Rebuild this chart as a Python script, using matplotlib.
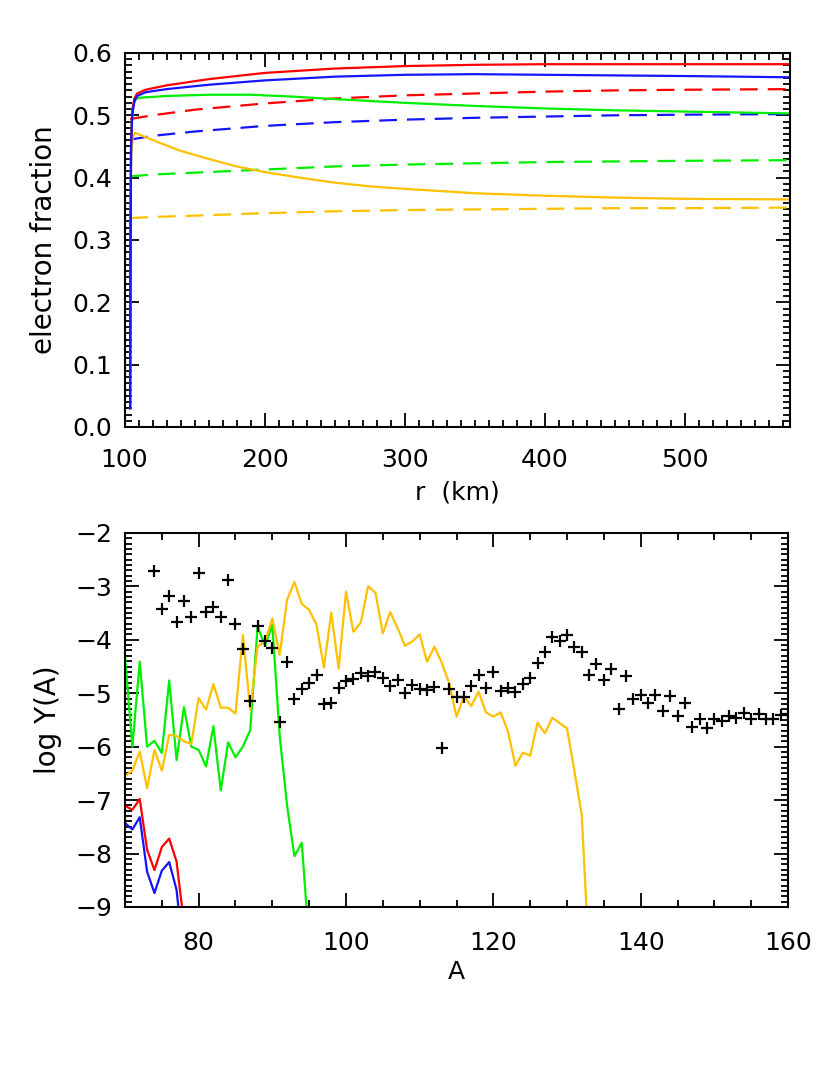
import numpy as np
import matplotlib
matplotlib.use("Agg")
import matplotlib.pyplot as plt
from matplotlib.ticker import MultipleLocator, FormatStrFormatter

# ---- top panel: electron fraction vs radius ----
r_red = [104.0, 104.3, 104.7, 105.5, 107, 109, 115, 130, 160, 200, 250, 300, 350, 400, 500, 575]
ye_red = [0.03, 0.30, 0.45, 0.505, 0.527, 0.535, 0.541, 0.548, 0.558, 0.568, 0.575, 0.579, 0.581, 0.582, 0.582, 0.582]
r_blue = [104.0, 104.3, 104.7, 105.5, 107, 109, 115, 130, 160, 200, 250, 300, 350, 400, 450, 500, 575]
ye_blue = [0.03, 0.30, 0.45, 0.50, 0.522, 0.531, 0.537, 0.542, 0.549, 0.556, 0.562, 0.565, 0.566, 0.565, 0.564, 0.563, 0.561]
r_green = [104.0, 104.3, 104.7, 106, 108, 110, 130, 160, 190, 220, 250, 300, 350, 400, 450, 500, 575]
ye_green = [0.03, 0.30, 0.47, 0.515, 0.526, 0.528, 0.531, 0.533, 0.533, 0.530, 0.526, 0.520, 0.515, 0.511, 0.508, 0.506, 0.503]
r_orange = [104.0, 104.3, 104.7, 106, 107.5, 115, 125, 140, 160, 180, 200, 225, 250, 275, 300, 350, 400, 450, 500, 575]
ye_orange = [0.03, 0.30, 0.44, 0.465, 0.472, 0.465, 0.456, 0.443, 0.430, 0.418, 0.409, 0.400, 0.392, 0.386, 0.382, 0.375, 0.371, 0.368, 0.366, 0.365]

r_dash = [104, 120, 150, 200, 250, 300, 350, 400, 450, 500, 575]
ye_red_d = [0.494, 0.500, 0.509, 0.519, 0.527, 0.532, 0.535, 0.538, 0.540, 0.541, 0.542]
ye_blue_d = [0.461, 0.467, 0.474, 0.483, 0.489, 0.493, 0.496, 0.498, 0.500, 0.501, 0.502]
ye_green_d = [0.402, 0.405, 0.408, 0.413, 0.418, 0.421, 0.423, 0.425, 0.426, 0.427, 0.428]
ye_orange_d = [0.335, 0.337, 0.339, 0.343, 0.346, 0.348, 0.349, 0.350, 0.351, 0.351, 0.352]

# ---- bottom panel: log abundances vs mass number ----
A_red = list(range(70, 79))
y_red = [-7.11, -7.18, -6.98, -7.93, -8.31, -7.88, -7.72, -8.15, -9.3]
A_blue = list(range(70, 79))
y_blue = [-7.43, -7.55, -7.32, -8.34, -8.74, -8.32, -8.16, -8.68, -10.0]
A_green = list(range(70, 96))
y_green = [-4.31, -6.0, -4.41, -6.0, -5.89, -6.12, -4.76, -6.25, -5.26, -6.0,
           -6.06, -6.37, -5.62, -6.82, -5.92, -6.2, -6.0, -5.69, -3.75, -4.11,
           -3.72, -5.8, -7.1, -8.05, -7.8, -9.7]
A_orange = list(range(70, 134))
y_orange = [-6.55, -6.45, -6.09, -6.78, -6.06, -6.45, -5.78, -5.8, -5.9, -5.95,
            -5.09, -5.31, -4.83, -5.27, -5.27, -5.38, -3.91, -5.31, -4.13, -4.03,
            -3.60, -4.28, -3.25, -2.92, -3.33, -3.44, -3.72, -4.52, -3.49, -4.54,
            -3.10, -3.85, -3.68, -3.00, -3.12, -3.88, -3.48, -3.78, -4.11, -4.03,
            -3.90, -4.41, -4.13, -4.43, -4.81, -5.44, -5.06, -5.24, -4.97, -5.36,
            -5.44, -5.36, -5.72, -6.36, -6.11, -6.17, -5.55, -5.75, -5.46, -5.56,
            -5.66, -6.45, -7.28, -10.0]
A_solar = list(range(74, 161))
y_solar = [-2.71, -3.42, -3.18, -3.66, -3.27, -3.57, -2.75, -3.48, -3.39, -3.58,
           -2.89, -3.70, -4.18, -5.14, -3.74, -4.03, -4.15, -5.54, -4.42, -5.11,
           -4.93, -4.81, -4.66, -5.20, -5.19, -4.91, -4.77, -4.74, -4.63, -4.68,
           -4.60, -4.72, -4.86, -4.76, -4.99, -4.84, -4.93, -4.94, -4.88, -6.02,
           -4.92, -5.08, -5.08, -4.86, -4.65, -4.90, -4.61, -4.96, -4.91, -4.98,
           -4.82, -4.71, -4.44, -4.22, -3.95, -4.03, -3.91, -4.14, -4.23, -4.65,
           -4.46, -4.76, -4.55, -5.29, -4.68, -5.10, -5.03, -5.18, -5.03, -5.34,
           -5.06, -5.43, -5.19, -5.63, -5.49, -5.65, -5.48, -5.52, -5.42, -5.46,
           -5.37, -5.48, -5.39, -5.48, -5.48, -5.40, -5.38]

RED = '#ff0000'
BLUE = '#1414ff'
GREEN = '#00ee00'
ORANGE = '#ffc000'
LW = 1.6
DASH = (8, 4.5)

plt.rcParams['font.family'] = 'DejaVu Sans'
plt.rcParams['font.size'] = 18

fig = plt.figure(figsize=(8.3, 10.68), dpi=100)
ax1 = fig.add_axes([0.150, 0.6002, 0.802, 0.3502])
ax2 = fig.add_axes([0.1506, 0.1508, 0.7988, 0.3502])

# top panel
ax1.plot(r_dash, ye_red_d, color=RED, lw=LW, dashes=DASH)
ax1.plot(r_dash, ye_blue_d, color=BLUE, lw=LW, dashes=DASH)
ax1.plot(r_dash, ye_green_d, color=GREEN, lw=LW, dashes=DASH)
ax1.plot(r_dash, ye_orange_d, color=ORANGE, lw=LW, dashes=DASH)
ax1.plot(r_orange, ye_orange, color=ORANGE, lw=LW)
ax1.plot(r_green, ye_green, color=GREEN, lw=LW)
ax1.plot(r_red, ye_red, color=RED, lw=LW)
ax1.plot(r_blue, ye_blue, color=BLUE, lw=LW)
ax1.set_xlim(100, 575)
ax1.set_ylim(0, 0.6)
ax1.xaxis.set_major_locator(MultipleLocator(100))
ax1.xaxis.set_minor_locator(MultipleLocator(10))
ax1.yaxis.set_major_locator(MultipleLocator(0.1))
ax1.yaxis.set_minor_locator(MultipleLocator(0.01))
ax1.yaxis.set_major_formatter(FormatStrFormatter('%.1f'))
ax1.set_xlabel('r  (km)', labelpad=6)
ax1.set_ylabel('electron fraction', fontsize=20, labelpad=10)

# bottom panel
ax2.plot(A_green, y_green, color=GREEN, lw=LW)
ax2.plot(A_orange, y_orange, color=ORANGE, lw=LW)
ax2.plot(A_red, y_red, color=RED, lw=LW)
ax2.plot(A_blue, y_blue, color=BLUE, lw=LW)
ax2.plot(A_solar, y_solar, ls='none', marker='+', color='black', ms=8, mew=1.6)
ax2.set_xlim(70, 160)
ax2.set_ylim(-9, -2)
ax2.xaxis.set_major_locator(MultipleLocator(20))
ax2.xaxis.set_minor_locator(MultipleLocator(5))
ax2.yaxis.set_major_locator(MultipleLocator(1))
ax2.yaxis.set_minor_locator(MultipleLocator(0.1))
ax2.set_xlabel('A', labelpad=4)
ax2.set_ylabel('log Y(A)', fontsize=20, labelpad=10)

for ax in (ax1, ax2):
    ax.tick_params(which='both', direction='in', top=True, right=True, width=1.3)
    ax.tick_params(which='major', length=10)
    ax.tick_params(which='minor', length=5)
    ax.tick_params(axis='y', pad=9)
    for s in ax.spines.values():
        s.set_linewidth(1.5)
ax1.tick_params(axis='x', pad=15)
ax2.tick_params(axis='x', pad=17)

fig.savefig('out.png', dpi=100)
